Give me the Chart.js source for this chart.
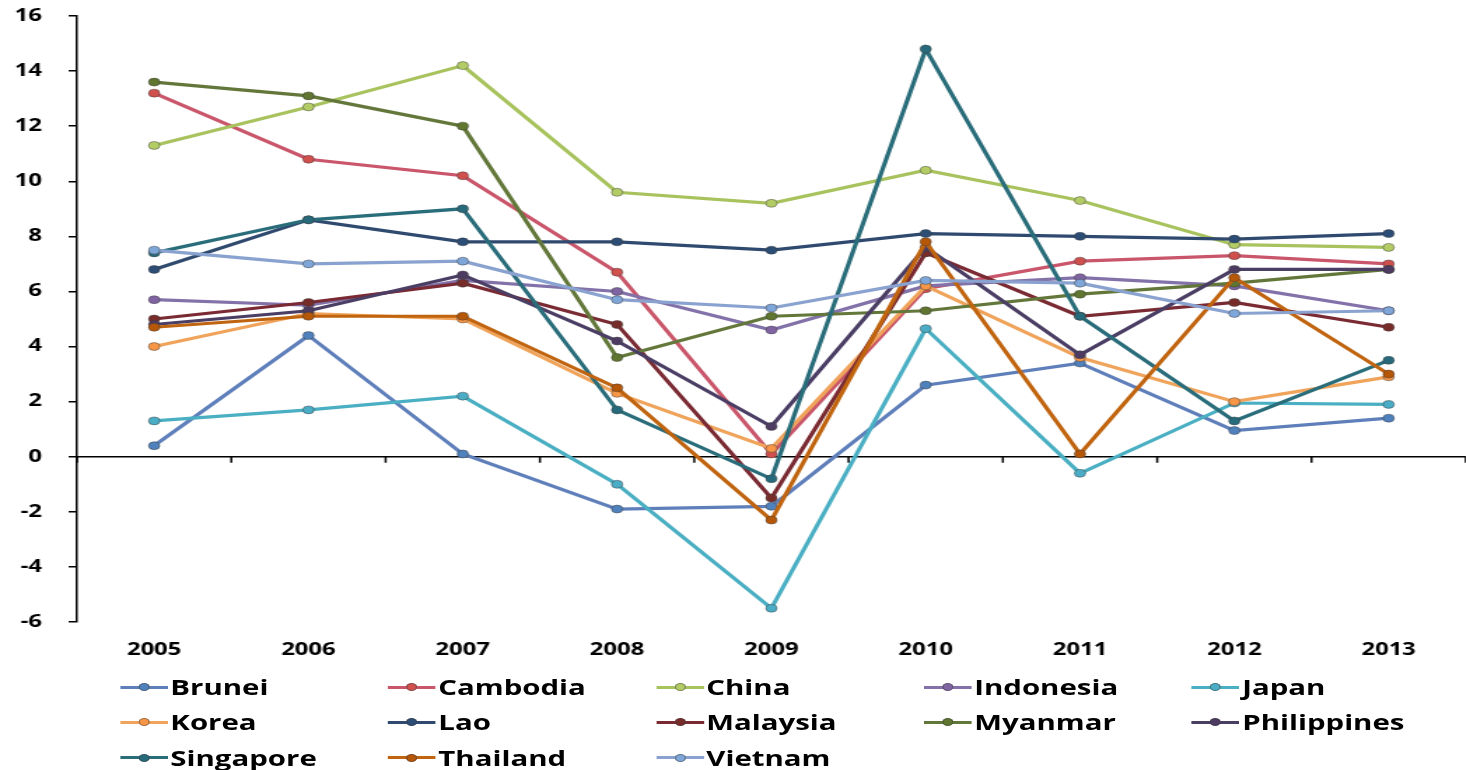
<!DOCTYPE html>
<html>
<head>
<meta charset="utf-8">
<script src="https://cdn.jsdelivr.net/npm/chart.js@4.4.1/dist/chart.umd.min.js"></script>
<style>
html,body{margin:0;padding:0;overflow:hidden;background:#fff;width:1466px;height:770px}
#wrap{position:absolute;left:0;top:0;width:1052px;height:770px;transform:scaleX(1.4);transform-origin:0 0}
#c{position:absolute;left:0;top:0;width:1052px;height:770px}
#legend{position:absolute;left:0;top:0;width:1052px;height:770px;font-family:'Open Sans',sans-serif;font-weight:700;font-size:21px;color:#000;pointer-events:none}
.item{position:absolute;display:flex;align-items:center;height:30px;white-space:nowrap;line-height:30px}
.sym{position:relative;width:34px;height:30px;margin-right:2px;flex:none}
.sym .ln{position:absolute;left:0;right:0;top:13.5px;height:3px}
.sym .dot{position:absolute;left:13px;top:11px;width:8px;height:8px;border-radius:50%;box-sizing:border-box;border:1px solid rgba(60,60,60,0.45)}
</style>
</head>
<body>
<div id="wrap">
  <canvas id="c" width="1052" height="770"></canvas>
  <div id="legend"></div>
</div>
<script>
// ---- data ----
const years = ['2005','2006','2007','2008','2009','2010','2011','2012','2013'];
const countries = ['Brunei','Cambodia','China','Indonesia','Japan','Korea','Lao','Malaysia','Myanmar','Philippines','Singapore','Thailand','Vietnam'];
const brunei      = [0.4, 4.4, 0.1, -1.9, -1.8, 2.6, 3.4, 0.95, 1.4];
const cambodia    = [13.2, 10.8, 10.2, 6.7, 0.1, 6.1, 7.1, 7.3, 7.0];
const china       = [11.3, 12.7, 14.2, 9.6, 9.2, 10.4, 9.3, 7.7, 7.6];
const indonesia   = [5.7, 5.5, 6.4, 6.0, 4.6, 6.2, 6.5, 6.2, 5.3];
const japan       = [1.3, 1.7, 2.2, -1.0, -5.5, 4.65, -0.6, 1.95, 1.9];
const korea       = [4.0, 5.2, 5.0, 2.3, 0.3, 6.2, 3.6, 2.0, 2.9];
const lao         = [6.8, 8.6, 7.8, 7.8, 7.5, 8.1, 8.0, 7.9, 8.1];
const malaysia    = [5.0, 5.6, 6.3, 4.8, -1.5, 7.4, 5.1, 5.6, 4.7];
const myanmar     = [13.6, 13.1, 12.0, 3.6, 5.1, 5.3, 5.9, 6.3, 6.8];
const philippines = [4.8, 5.3, 6.6, 4.2, 1.1, 7.6, 3.7, 6.8, 6.8];
const singapore   = [7.4, 8.6, 9.0, 1.7, -0.8, 14.8, 5.1, 1.3, 3.5];
const thailand    = [4.7, 5.1, 5.1, 2.5, -2.3, 7.8, 0.1, 6.5, 3.0];
const vietnam     = [7.5, 7.0, 7.1, 5.7, 5.4, 6.4, 6.3, 5.2, 5.3];
const yTickMin = -6, yTickMax = 16, yTickStep = 2;

// ---- styles ----
const seriesValues = [brunei, cambodia, china, indonesia, japan, korea, lao, malaysia, myanmar, philippines, singapore, thailand, vietnam];
const lineColors  = ['#5f7fbb','#c9566a','#a8c35e','#8272a9','#4aafc2','#f0a35a','#2f4a6e','#7a2a32','#63773a','#4b3e64','#2a6d7a','#c0640f','#8aa2cf'];
const pointColors = ['#4f81bd','#d0504d','#b3cc66','#8064a2','#4bacc6','#f79646','#2c4d75','#772c2a','#5f7530','#4d3b62','#276a7c','#b65708','#7fa6d8'];

const datasets = countries.map((name, i) => ({
  label: name,
  data: seriesValues[i],
  borderColor: lineColors[i],
  backgroundColor: pointColors[i],
  pointBackgroundColor: pointColors[i],
  pointBorderColor: 'rgba(60,60,60,0.45)',
  pointBorderWidth: 1,
  pointRadius: 4,
  borderWidth: 3.2,
  tension: 0,
  fill: false,
  order: -i
}));

const tickFont = {family: "'Open Sans', sans-serif", weight: 'bold', size: 17};

// horizontal axis line drawn at y = 0 with small tick marks between categories
const zeroAxis = {
  id: 'zeroAxis',
  beforeDatasetsDraw(chart) {
    const {ctx, chartArea, scales: {x, y}} = chart;
    const y0 = y.getPixelForValue(0);
    ctx.save();
    ctx.strokeStyle = '#000';
    ctx.lineWidth = 1.5;
    ctx.beginPath();
    ctx.moveTo(chartArea.left, y0);
    ctx.lineTo(chartArea.right, y0);
    for (let i = 0; i <= years.length; i++) {
      const px = x.getPixelForValue(i - 0.5);
      ctx.moveTo(px, y0);
      ctx.lineTo(px, y0 + 6);
    }
    ctx.stroke();
    ctx.restore();
  }
};

const chart = new Chart(document.getElementById('c'), {
  type: 'line',
  data: {labels: years, datasets},
  plugins: [zeroAxis],
  options: {
    responsive: false,
    animation: false,
    devicePixelRatio: 1,
    layout: {padding: {top: 16, left: 0, right: 0, bottom: 108}},
    plugins: {legend: {display: false}, tooltip: {enabled: false}, title: {display: false}},
    scales: {
      x: {
        type: 'category',
        position: 'bottom',
        offset: true,
        grid: {display: false, drawTicks: false},
        border: {display: false},
        ticks: {color: '#000', font: tickFont, padding: 18, maxRotation: 0, autoSkip: false},
        afterFit(s) { s.height = 40; s.paddingLeft = 0; s.paddingRight = 0; }
      },
      y: {
        type: 'linear',
        position: 'left',
        min: yTickMin,
        max: yTickMax,
        ticks: {stepSize: yTickStep, color: '#000', font: tickFont, padding: 19},
        grid: {drawOnChartArea: false, drawTicks: true, tickLength: 6, color: '#000', lineWidth: 1.5},
        border: {display: true, color: '#000', width: 1.5},
        afterFit(s) { s.width = 55; s.paddingTop = 0; s.paddingBottom = 0; }
      }
    }
  }
});

// ---- HTML legend (5 fixed columns, like the original) ----
const legend = document.getElementById('legend');
const colX0 = 85.7, colW = 191.4, rowY = [687, 722, 757.5];
chart.data.datasets.forEach((ds, i) => {
  const col = i % 5, row = Math.floor(i / 5);
  const item = document.createElement('div');
  item.className = 'item';
  item.style.left = (colX0 + col * colW) + 'px';
  item.style.top = (rowY[row] - 15) + 'px';
  const sym = document.createElement('div');
  sym.className = 'sym';
  const ln = document.createElement('div'); ln.className = 'ln'; ln.style.background = ds.borderColor;
  const dot = document.createElement('div'); dot.className = 'dot'; dot.style.background = ds.pointBackgroundColor;
  sym.appendChild(ln); sym.appendChild(dot);
  const txt = document.createElement('span'); txt.textContent = ds.label;
  item.appendChild(sym); item.appendChild(txt);
  legend.appendChild(item);
});
</script>
</body>
</html>
